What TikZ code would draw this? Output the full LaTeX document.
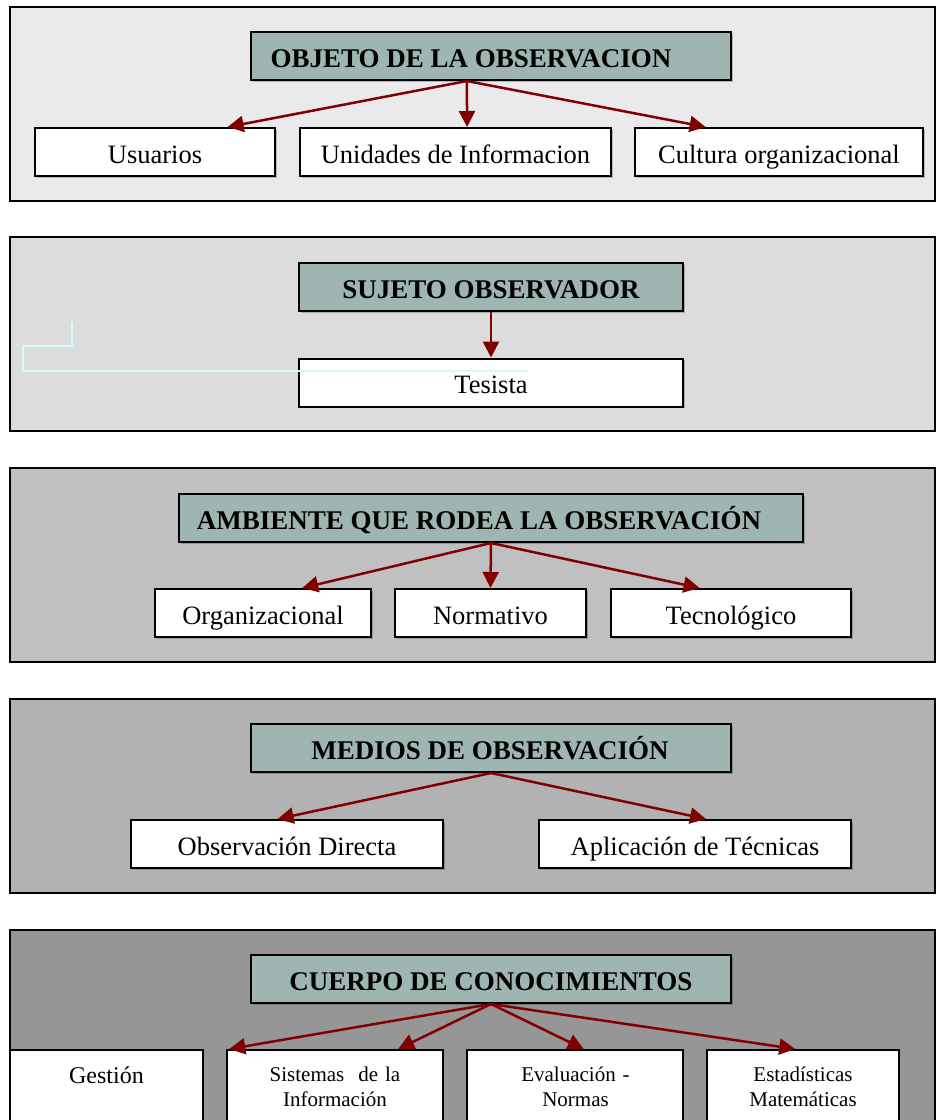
\documentclass[tikz,border=0pt]{standalone}
\usepackage{fontspec}
\setmainfont{Liberation Serif}
\usetikzlibrary{arrows.meta,calc,shadows}

\definecolor{paneA}{HTML}{EAEAEA}
\definecolor{paneB}{HTML}{DCDCDC}
\definecolor{paneC}{HTML}{C0C0C0}
\definecolor{paneD}{HTML}{B2B2B2}
\definecolor{paneE}{HTML}{969696}
\definecolor{headfill}{HTML}{9FB5B1}
\definecolor{linkred}{HTML}{800000}
\definecolor{guidecyan}{HTML}{CCFFFF}

\begin{document}
\begin{tikzpicture}[x=1pt,y=-1pt,
  panel/.style={draw=black, line width=2pt},
  boxshadow/.style={drop shadow={shadow xshift=1.5pt, shadow yshift=-1.5pt, fill=black, opacity=0.22}},
  head/.style={draw=black, line width=2pt, fill=headfill, inner sep=0pt, minimum height=48pt, boxshadow},
  headtext/.style={font=\fontsize{27}{31}\selectfont\bfseries, inner sep=0pt, text height=22pt, text depth=0pt},
  leaf/.style={draw=black, line width=2pt, fill=white, inner sep=0pt, minimum height=48pt,
    font=\fontsize{26.5}{30}\selectfont, text height=22pt, text depth=0pt, boxshadow},
  kbox/.style={draw=black, line width=2pt, fill=white, inner sep=0pt, minimum height=120pt},
  ktext/.style={font=\fontsize{21}{25}\selectfont, align=center, inner sep=0pt, text width=200pt, anchor=base},
  link/.style={draw=linkred, line width=2.5pt, -{Triangle[length=16pt,width=16pt]}},
  guide/.style={draw=guidecyan, line width=1.6pt},
]
\fill[white] (0,0) rectangle (936,1120);
\useasboundingbox (0,0) rectangle (936,1120);

% ---- Objeto de la observacion
\draw[panel, fill=paneA] (10,7) rectangle (935,201);
\node[head, minimum width=480pt] (h1) at (491,56) {};
\node[headtext] (h1t) at (471,56) {OBJETO DE LA OBSERVACION};
\node[leaf, minimum width=240pt] (a1) at (155,152) {Usuarios};
\node[leaf, minimum width=311pt] (a2) at (455.5,152) {Unidades de Informacion};
\node[leaf, minimum width=288pt] (a3) at (779,152) {Cultura organizacional};
\coordinate (o1) at ($(h1.south west)!0.45!(h1.south east)$);
\draw[link] (o1) -- ($(a1.north west)!0.80!(a1.north east)$);
\draw[link] (o1) -- ($(a2.north west)!0.537!(a2.north east)$);
\draw[link] (o1) -- ($(a3.north west)!0.247!(a3.north east)$);

% ---- Sujeto observador
\draw[panel, fill=paneB] (10,237) rectangle (935,431);
\node[head, minimum width=384pt] (h2) at (491,287) {};
\node[headtext] (h2t) at (491,287) {SUJETO OBSERVADOR};
\node[leaf, minimum width=384pt] (b1) at (491,382.5) {Tesista};
\draw[link] (h2) -- (b1);
\draw[guide] (72,322) -- (72,346) -- (23,346) -- (23,371) -- (528,371);

% ---- Ambiente que rodea la observacion
\draw[panel, fill=paneC] (10,468) rectangle (935,662);
\node[head, minimum width=624pt] (h3) at (491,518) {};
\node[headtext] (h3t) at (479,518) {AMBIENTE QUE RODEA LA OBSERVACIÓN};
\node[leaf, minimum width=216pt] (c1) at (263,613) {Organizacional};
\node[leaf, minimum width=191pt] (c2) at (490.5,613) {Normativo};
\node[leaf, minimum width=240pt] (c3) at (731,613) {Tecnológico};
\draw[link] (h3.south) -- ($(c1.north west)!0.68!(c1.north east)$);
\draw[link] (h3.south) -- (c2.north);
\draw[link] (h3.south) -- ($(c3.north west)!0.37!(c3.north east)$);

% ---- Medios de observacion
\draw[panel, fill=paneD] (10,699) rectangle (935,893);
\node[head, minimum width=480pt] (h4) at (491,748) {};
\node[headtext] (h4t) at (490,748) {MEDIOS DE OBSERVACIÓN};
\node[leaf, minimum width=312pt] (d1) at (287,844) {Observación Directa};
\node[leaf, minimum width=312pt] (d2) at (695,844) {Aplicación de Técnicas};
\draw[link] (h4.south) -- ($(d1.north west)!0.47!(d1.north east)$);
\draw[link] (h4.south) -- ($(d2.north west)!0.535!(d2.north east)$);

% ---- Cuerpo de conocimientos
\draw[panel, fill=paneE] (10,930) rectangle (935,1180);
\node[head, minimum width=480pt] (h5) at (491,979) {};
\node[headtext] (h5t) at (491,979) {CUERPO DE CONOCIMIENTOS};
\node[kbox, minimum width=193pt] (e1) at (106.5,1110) {};
\node[kbox, minimum width=216pt] (e2) at (335,1110) {};
\node[kbox, minimum width=216pt] (e3) at (575,1110) {};
\node[kbox, minimum width=192pt] (e4) at (803,1110) {};
\node[ktext, font=\fontsize{24}{28}\selectfont] (e1t) at (106.5,1083) {Gestión};
\node[ktext] (e2t) at (335,1081) {Sistemas~ de la\\Información};
\node[ktext] (e3t) at (575.5,1081) {Evaluación -\\Normas};
\node[ktext] (e4t) at (803,1081) {Estadísticas\\Matemáticas};
\draw[link] (h5.south) -- ($(e2.north west)!0.015!(e2.north east)$);
\draw[link] (h5.south) -- ($(e2.north west)!0.79!(e2.north east)$);
\draw[link] (h5.south) -- ($(e3.north west)!0.54!(e3.north east)$);
\draw[link] (h5.south) -- ($(e4.north west)!0.46!(e4.north east)$);
\end{tikzpicture}
\end{document}
